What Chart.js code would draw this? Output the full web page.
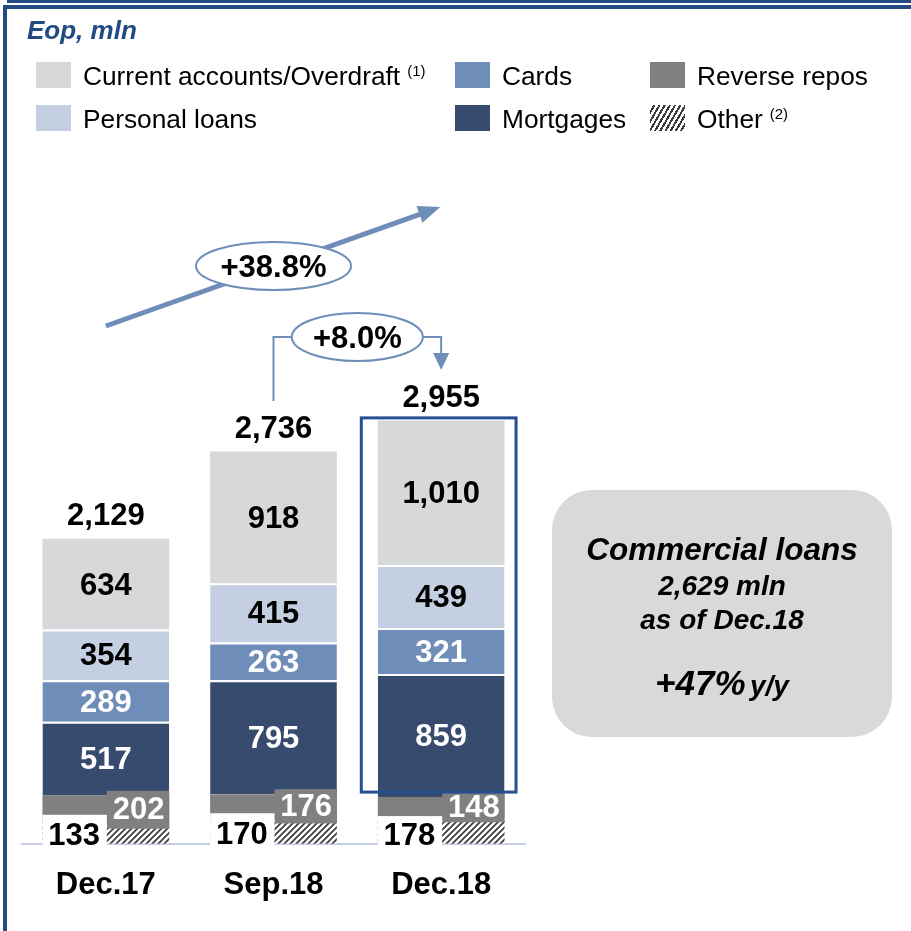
<!DOCTYPE html>
<html>
<head>
<meta charset="utf-8">
<script src="https://cdn.jsdelivr.net/npm/chart.js@4.4.1/dist/chart.umd.min.js"></script>
<style>
html,body{margin:0;padding:0;background:#fff;}
body{width:911px;height:931px;position:relative;overflow:hidden;font-family:"Liberation Sans",Arial,sans-serif;}
#c{position:absolute;left:0;top:0;}
.f{position:absolute;background:#214B82;}
.title{position:absolute;left:27px;top:14px;font-weight:bold;font-style:italic;font-size:26px;line-height:32px;color:#214B82;}
.sw{position:absolute;width:35px;height:26px;}
.lt{position:absolute;font-size:26.3px;line-height:30px;color:#000;white-space:nowrap;}
.sup{font-size:15px;position:relative;top:-9px;margin-left:7px;}
.box{position:absolute;left:552px;top:490px;width:340px;height:247px;border-radius:40px;background:#D9D9D9;}
.bl{position:absolute;left:552px;width:340px;text-align:center;font-weight:bold;font-style:italic;color:#000;white-space:nowrap;}
</style>
</head>
<body>
<canvas id="c" width="911" height="931"></canvas>
<div class="f" style="left:7px;top:0;width:904px;height:3px;"></div>
<div class="f" style="left:3px;top:5px;width:908px;height:4px;"></div>
<div class="f" style="left:3px;top:5px;width:4px;height:926px;"></div>
<div class="title">Eop, mln</div>
<div id="legend"></div>
<div class="box"></div>
<div class="bl" style="top:531px;font-size:31.5px;line-height:36px;">Commercial loans</div>
<div class="bl" style="top:569px;font-size:28px;line-height:34px;">2,629 mln</div>
<div class="bl" style="top:603px;font-size:28px;line-height:34px;">as of Dec.18</div>
<div class="bl" style="top:663px;line-height:40px;"><span style="font-size:35px;">+47%</span> <span style="font-size:28px;">y/y</span></div>
<script>
// ---- data ----
const categories = ['Dec.17', 'Sep.18', 'Dec.18'];
const other = [133, 170, 178];
const reverseRepos = [202, 176, 148];
const mortgages = [517, 795, 859];
const cards = [289, 263, 321];
const personalLoans = [354, 415, 439];
const currentAccounts = [634, 918, 1010];
const totals = [2129, 2736, 2955];
const growthYoY = '+38.8%';
const growthQoQ = '+8.0%';

const FONT = '"Liberation Sans", Arial, sans-serif';
const COLORS = {
  current: '#D7D8DA',
  personal: '#C4CFE1',
  cards: '#6F8DB9',
  mortgages: '#364B6D',
  repos: '#808080',
  accent: '#6F8DB9',
  highlight: '#24508F'
};

const canvas = document.getElementById('c');
const ctx0 = canvas.getContext('2d');

function makeHatch() {
  const p = document.createElement('canvas');
  p.width = 6; p.height = 6;
  const g = p.getContext('2d');
  g.fillStyle = '#ffffff';
  g.fillRect(0, 0, 6, 6);
  g.strokeStyle = '#3a3a3a';
  g.lineWidth = 1.7;
  g.beginPath();
  g.moveTo(-1, 7); g.lineTo(7, -1);
  g.moveTo(-1, 1); g.lineTo(1, -1);
  g.moveTo(5, 7); g.lineTo(7, 5);
  g.stroke();
  return ctx0.createPattern(p, 'repeat');
}
const hatch = makeHatch();

// ---- HTML legend ----
const legendItems = [
  {label: 'Current accounts/Overdraft', sup: '(1)', color: COLORS.current, sx: 36, tx: 83, row: 0},
  {label: 'Personal loans', sup: '', color: COLORS.personal, sx: 36, tx: 83, row: 1},
  {label: 'Cards', sup: '', color: COLORS.cards, sx: 455, tx: 502, row: 0},
  {label: 'Mortgages', sup: '', color: COLORS.mortgages, sx: 455, tx: 502, row: 1},
  {label: 'Reverse repos', sup: '', color: COLORS.repos, sx: 650, tx: 697, row: 0},
  {label: 'Other', sup: '(2)', color: null, sx: 650, tx: 697, row: 1}
];
const lg = document.getElementById('legend');
legendItems.forEach(it => {
  const cy = it.row === 0 ? 75 : 118;
  const s = document.createElement('div');
  s.className = 'sw';
  s.style.left = it.sx + 'px';
  s.style.top = (cy - 13) + 'px';
  if (it.color) s.style.background = it.color;
  else s.style.background = 'repeating-linear-gradient(-60deg,#fff 0px,#fff 2.5px,#3a3a3a 2.5px,#3a3a3a 4.5px)';
  lg.appendChild(s);
  const t = document.createElement('div');
  t.className = 'lt';
  t.style.left = it.tx + 'px';
  t.style.top = (cy - 14) + 'px';
  t.textContent = it.label;
  if (it.sup) {
    const sp = document.createElement('span');
    sp.className = 'sup';
    sp.textContent = it.sup;
    t.appendChild(sp);
  }
  lg.appendChild(t);
});

const fmt = v => v.toLocaleString('en-US');

// ---- annotation plugin ----
const annotations = {
  id: 'annotations',
  afterDatasetsDraw(chart) {
    const ctx = chart.ctx;
    const metas = chart.data.datasets.map((d, i) => chart.getDatasetMeta(i));
    ctx.save();
    ctx.textAlign = 'center';
    ctx.textBaseline = 'middle';
    ctx.font = 'bold 31px ' + FONT;

    // segment labels for the four main stacks
    for (let di = 2; di < 6; di++) {
      const color = di <= 3 ? '#ffffff' : '#000000';
      metas[di].data.forEach((el, i) => {
        ctx.fillStyle = color;
        ctx.fillText(fmt(chart.data.datasets[di].data[i]), el.x, (el.y + el.base) / 2 + 2);
      });
    }

    // bottom labels: reverse repos (grey tag) and other (white tag)
    metas[1].data.forEach((el, i) => {
      const o = metas[0].data[i];
      const half = el.width / 2;
      const gTop = el.y - 5, gBot = o.y + 4;
      ctx.fillStyle = COLORS.repos;
      ctx.fillRect(el.x + 1, gTop, half - 1, gBot - gTop);
      ctx.fillStyle = '#ffffff';
      ctx.fillText(fmt(reverseRepos[i]), el.x + half / 2 + 1, (gTop + gBot) / 2 + 1);
      const wTop = el.y + 19;
      ctx.fillStyle = '#ffffff';
      ctx.fillRect(el.x - half, wTop, half + 1, o.base + 4 - wTop);
      ctx.fillStyle = '#000000';
      ctx.fillText(fmt(other[i]), el.x - half / 2, (wTop + o.base) / 2 + 7);
    });

    // totals above the bars
    metas[5].data.forEach((el, i) => {
      ctx.fillStyle = '#000000';
      ctx.fillText(fmt(totals[i]), el.x, el.y - 22);
    });

    // highlight box round the last bar
    const last = metas[5].data[2];
    const mort = metas[2].data[2];
    ctx.strokeStyle = COLORS.highlight;
    ctx.lineWidth = 3;
    const bx1 = last.x - last.width / 2 - 16.5;
    const bx2 = last.x + last.width / 2 + 11.5;
    const by1 = last.y - 2.5;
    const by2 = mort.base - 5;
    ctx.strokeRect(bx1, by1, bx2 - bx1, by2 - by1);

    // big growth arrow Dec.17 -> Dec.18
    const xA = metas[5].data[0].x, xB = metas[5].data[1].x, xC = metas[5].data[2].x;
    const sx = xA, sy = 326, ex = xC - 1, ey = 207;
    const dx = ex - sx, dy = ey - sy, len = Math.hypot(dx, dy);
    const ux = dx / len, uy = dy / len, nx = -uy, ny = ux;
    ctx.strokeStyle = COLORS.accent;
    ctx.fillStyle = COLORS.accent;
    ctx.lineWidth = 5;
    ctx.lineCap = 'butt';
    ctx.beginPath();
    ctx.moveTo(sx, sy);
    ctx.lineTo(ex - ux * 18, ey - uy * 18);
    ctx.stroke();
    ctx.beginPath();
    ctx.moveTo(ex, ey);
    ctx.lineTo(ex - ux * 22 + nx * 9, ey - uy * 22 + ny * 9);
    ctx.lineTo(ex - ux * 22 - nx * 9, ey - uy * 22 - ny * 9);
    ctx.closePath();
    ctx.fill();

    // ellipse label on the big arrow
    ctx.beginPath();
    ctx.ellipse(xB, 266, 77.5, 24, 0, 0, Math.PI * 2);
    ctx.fillStyle = '#ffffff';
    ctx.fill();
    ctx.lineWidth = 2;
    ctx.strokeStyle = COLORS.accent;
    ctx.stroke();
    ctx.fillStyle = '#000000';
    ctx.font = 'bold 31px ' + FONT;
    ctx.fillText(growthYoY, xB, 268);

    // bracket arrow Sep.18 -> Dec.18
    const mx = (xB + xC) / 2;
    ctx.strokeStyle = COLORS.accent;
    ctx.lineWidth = 2;
    ctx.beginPath();
    ctx.moveTo(xB, 401);
    ctx.lineTo(xB, 337);
    ctx.lineTo(mx - 60, 337);
    ctx.moveTo(mx + 60, 337);
    ctx.lineTo(xC, 337);
    ctx.lineTo(xC, 354);
    ctx.stroke();
    ctx.beginPath();
    ctx.fillStyle = COLORS.accent;
    ctx.moveTo(xC - 8, 353);
    ctx.lineTo(xC + 8, 353);
    ctx.lineTo(xC, 370);
    ctx.closePath();
    ctx.fill();
    ctx.beginPath();
    ctx.ellipse(mx, 337, 65.5, 24, 0, 0, Math.PI * 2);
    ctx.fillStyle = '#ffffff';
    ctx.fill();
    ctx.stroke();
    ctx.fillStyle = '#000000';
    ctx.font = 'bold 31px ' + FONT;
    ctx.fillText(growthQoQ, mx, 339);
    ctx.restore();
  }
};

const sep = {top: 2, right: 0, bottom: 0, left: 0};
new Chart(canvas, {
  type: 'bar',
  data: {
    labels: categories,
    datasets: [
      {label: 'Other', data: other, backgroundColor: hatch, borderWidth: 0},
      {label: 'Reverse repos', data: reverseRepos, backgroundColor: COLORS.repos, borderWidth: 0},
      {label: 'Mortgages', data: mortgages, backgroundColor: COLORS.mortgages, borderColor: '#fff', borderWidth: sep, borderSkipped: false},
      {label: 'Cards', data: cards, backgroundColor: COLORS.cards, borderColor: '#fff', borderWidth: sep, borderSkipped: false},
      {label: 'Personal loans', data: personalLoans, backgroundColor: COLORS.personal, borderColor: '#fff', borderWidth: sep, borderSkipped: false},
      {label: 'Current accounts/Overdraft', data: currentAccounts, backgroundColor: COLORS.current, borderWidth: 0}
    ]
  },
  options: {
    responsive: false,
    animation: false,
    devicePixelRatio: 1,
    layout: {padding: {left: 22, right: 386, top: 199, bottom: 3}},
    datasets: {bar: {categoryPercentage: 1, barPercentage: 0.756}},
    plugins: {legend: {display: false}, tooltip: {enabled: false}, title: {display: false}},
    scales: {
      x: {
        stacked: true,
        grid: {display: false, drawTicks: false},
        border: {display: true, color: '#C5CFE0', width: 2},
        ticks: {color: '#000', padding: 23.5, font: {family: FONT, size: 31, weight: 'bold'}}
      },
      y: {stacked: true, display: false, min: 0, max: 4500}
    }
  },
  plugins: [annotations]
});
</script>
</body>
</html>
